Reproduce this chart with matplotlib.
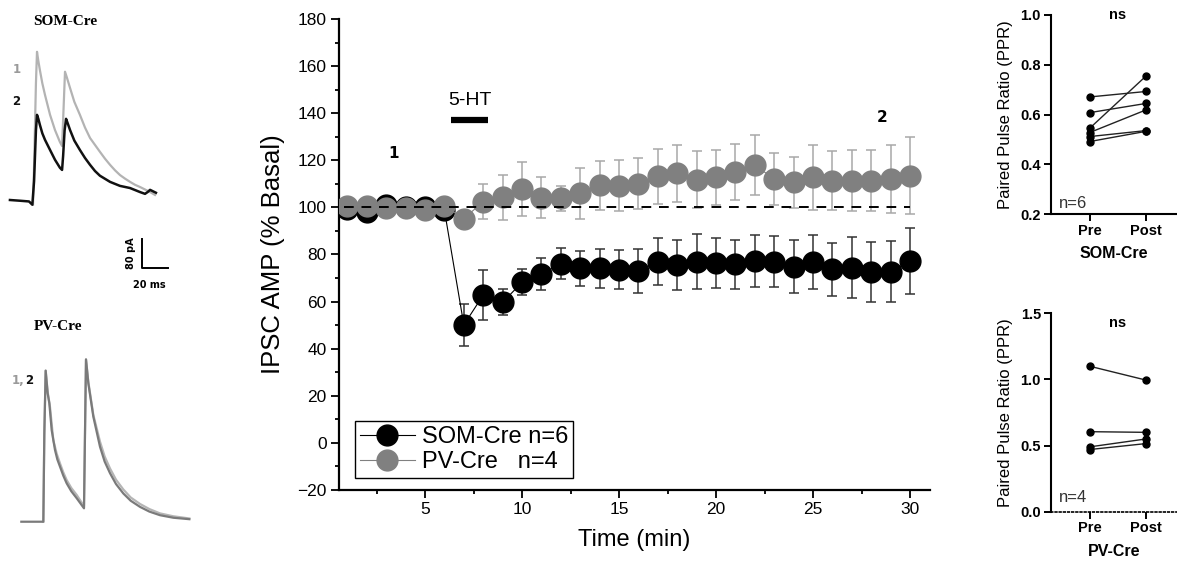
import numpy as np
import matplotlib
matplotlib.use("Agg")
import matplotlib.pyplot as plt
from matplotlib.lines import Line2D

plt.rcParams["font.family"] = ["Liberation Sans", "DejaVu Sans"]

# ---- time course (main panel) ----
time_min = np.arange(1, 31)
som_mean = [99.4, 98.0, 101.1, 100.1, 100.3, 98.7, 50.1, 62.8, 59.7, 68.2,
            71.8, 76.0, 74.1, 74.1, 73.5, 73.0, 77.0, 75.6, 77.0, 76.4,
            75.8, 77.3, 76.9, 74.8, 76.9, 73.7, 74.4, 72.7, 72.7, 77.2]
som_sem = [1.5, 1.5, 1.5, 1.2, 1.5, 2.0, 9.0, 10.5, 5.5, 5.6,
           6.9, 6.6, 7.4, 8.2, 8.2, 9.3, 10.1, 10.5, 11.5, 10.5,
           10.5, 11.0, 10.9, 11.2, 11.4, 11.3, 13.0, 12.7, 12.9, 14.1]
pv_mean = [100.8, 100.4, 99.9, 99.7, 98.7, 100.5, 95.2, 102.5, 104.3, 107.8,
           104.1, 103.9, 106.0, 109.5, 109.2, 110.0, 113.2, 114.5, 111.8, 112.8,
           115.1, 118.0, 112.0, 110.7, 112.8, 111.4, 111.4, 111.4, 112.0, 113.5]
pv_sem = [1.5, 1.5, 1.2, 1.0, 1.5, 1.5, 0.5, 7.6, 9.6, 11.5,
          8.8, 5.3, 10.9, 10.4, 10.9, 10.8, 11.7, 12.2, 12.2, 11.7,
          12.0, 12.9, 11.0, 10.8, 13.9, 12.5, 13.1, 12.9, 14.4, 16.2]
drug_on, drug_off = 6.33, 8.27   # 5-HT application (min)

# ---- paired pulse ratio ----
ppr_labels = ["Pre", "Post"]
som_ppr_pre = [0.671, 0.608, 0.545, 0.528, 0.512, 0.492]
som_ppr_post = [0.693, 0.645, 0.755, 0.619, 0.536, 0.533]
pv_ppr_pre = [1.10, 0.605, 0.49, 0.47]
pv_ppr_post = [0.995, 0.600, 0.55, 0.515]

# ---- example traces (ms, pA) ----
som_t_1 = [0.0, 0.8, 2.2, 3.0, 4.0, 5.2, 7.0, 9.0, 12.8, 16.5, 20.2, 21.8, 22.6,
           24.0, 25.5, 27.8, 31.0, 35.2, 39.0, 42.8, 46.5, 50.2, 54.0, 57.8,
           61.5, 65.2, 69.0, 72.8, 76.5, 80.2, 84.0, 87.8, 91.5]
som_i_1 = [-5, 100, 330, 417, 392, 366, 330, 298, 243, 201, 168, 157, 230,
           362, 345, 317, 279, 243, 208, 179, 160, 141, 122, 105,
           90, 77, 67, 58, 50, 44, 37, 30, 22]
som_t_2 = [-17.3, -9.8, -3.0, -0.5, 0.8, 2.2, 3.0, 4.0, 5.2, 7.0, 9.0, 12.8,
           16.5, 20.2, 21.8, 22.6, 23.7, 24.8, 26.0, 27.8, 31.0, 35.2, 39.0,
           42.8, 46.5, 50.2, 57.8, 65.2, 72.8, 80.2, 84.0, 86.0, 87.8, 90.0, 92.2]
som_i_2 = [8, 6, 4, -5, 60, 200, 243, 232, 215, 192, 174, 146,
           119, 97, 91, 130, 200, 232, 220, 201, 172, 146, 124,
           105, 88, 75, 58, 47, 41, 30, 25, 30, 36, 32, 28]
pv_t_1 = [-0.5, 0.25, 1.25, 2.75, 4.5, 7.0, 9.5, 12, 14.5, 17, 20.5, 24.5, 30,
          30.75, 31.5, 33.25, 37, 42, 45.5, 49.5, 54, 59.5, 65, 72, 79, 87, 97, 109]
pv_i_1 = [0, 244, 417, 359, 317, 225, 188, 161, 136, 115, 93, 74, 43,
          244, 448, 386, 295, 221, 180, 147, 116, 89, 67, 49, 35, 23, 15, 9]
pv_t_2 = [-17, -0.5, 0.25, 1.25, 2.75, 4.0, 5.75, 8.25, 10.0, 12, 14.5, 17,
          20.5, 24.5, 30, 30.75, 31.5, 33.25, 37, 42, 45.5, 49.5, 54, 59.5,
          65, 72, 79, 87, 97, 109]
pv_i_2 = [0, 0, 244, 417, 354, 327, 253, 198, 172, 152, 127, 106,
          84, 65, 37, 244, 448, 382, 290, 207, 166, 134, 104, 78,
          58, 41, 28, 18, 11, 7]
scale_ms, scale_pA = 20, 80

BLACK = "#000000"
GRAY = "#808080"
W, H = 1177, 569

fig = plt.figure(figsize=(W / 100, H / 100), dpi=100)


def px_axes(x0, y0, x1, y1):
    # axes from pixel box (top-left origin)
    return fig.add_axes([x0 / W, 1 - y1 / H, (x1 - x0) / W, (y1 - y0) / H])


# ================= traces =================
ax_s = px_axes(0, 0, 230, 300)
ax_s.plot(som_t_1, som_i_1, color="#b3b3b3", lw=1.6)
ax_s.plot(som_t_2, som_i_2, color="#111111", lw=1.8)
ax_s.set_xlim(-24.75, 147.75)
ax_s.set_ylim(-268, 560)
ax_s.axis("off")
ax_s.text(24, 500, "SOM-Cre", family="Liberation Serif", weight="bold",
          fontsize=11, ha="center", va="center")
ax_s.text(-12.5, 367, "1", color="#9a9a9a", weight="bold", family="DejaVu Sans",
          fontsize=8.5, ha="center", va="center")
ax_s.text(-12.5, 279, "2", color="#111111", weight="bold", family="DejaVu Sans",
          fontsize=8.5, ha="center", va="center")
sx, sy = 81.5, -180
ax_s.plot([sx, sx, sx + scale_ms], [sy + scale_pA, sy, sy], color="k", lw=1.4)
ax_s.text(sx - 8, sy + scale_pA / 2, f"{scale_pA} pA", rotation=90, weight="bold",
          family="DejaVu Sans", fontsize=7, ha="center", va="center")
ax_s.text(sx + 6, sy - 46, f"{scale_ms} ms", weight="bold", family="DejaVu Sans",
          fontsize=7, ha="center", va="center")

ax_p = px_axes(0, 300, 230, 569)
ax_p.plot(pv_t_1, pv_i_1, color="#b5b5b5", lw=1.6)
ax_p.plot(pv_t_2, pv_i_2, color="#7a7a7a", lw=1.6)
ax_p.set_xlim(-33, 139.5)
ax_p.set_ylim(-130.5, 612)
ax_p.axis("off")
ax_p.text(10.5, 540, "PV-Cre", family="Liberation Serif", weight="bold",
          fontsize=11, ha="center", va="center")
ax_p.text(-24.2, 391, "1,", color="#9a9a9a", weight="bold", family="DejaVu Sans",
          fontsize=8.5, ha="left", va="center")
ax_p.text(-14.2, 391, "2", color="#111111", weight="bold", family="DejaVu Sans",
          fontsize=8.5, ha="left", va="center")

# ================= time course =================
ax = px_axes(339.3, 19, 930, 490)
ax.errorbar(time_min, som_mean, yerr=som_sem, fmt="o-", color=BLACK, lw=0.8,
            ms=15, mec=BLACK, ecolor="#333333", elinewidth=1.1, capsize=3.5,
            capthick=1.1, zorder=3)
ax.errorbar(time_min, pv_mean, yerr=pv_sem, fmt="o-", color=GRAY, lw=0.8,
            ms=15, mec=GRAY, ecolor="#a8a8a8", elinewidth=1.1, capsize=3.5,
            capthick=1.1, zorder=4)
ax.hlines(100, 0.8, 30, colors="k", linestyles=(0, (5, 4)), lw=1.4, zorder=5)
ax.plot([drug_on, drug_off], [137, 137], color="k", lw=4.5, solid_capstyle="butt")
ax.text((drug_on + drug_off) / 2, 145.5, "5-HT", fontsize=14, ha="center", va="center")
ax.text(3.37, 123, "1", family="DejaVu Sans", weight="bold", fontsize=11,
        ha="center", va="center")
ax.text(28.57, 138, "2", family="DejaVu Sans", weight="bold", fontsize=11,
        ha="center", va="center")

ax.set_xlim(0.58, 31.03)
ax.set_ylim(-20, 180)
ax.set_xticks([5, 10, 15, 20, 25, 30])
ax.set_xticks(np.arange(2.5, 31, 5), minor=True)
ax.set_yticks(np.arange(-20, 181, 20))
ax.set_yticks(np.arange(-10, 180, 20), minor=True)
ax.tick_params(which="major", length=5.5, width=1.3, labelsize=12.5, direction="out")
ax.tick_params(which="minor", length=3, width=1.3, direction="out")
for side in ("top", "right"):
    ax.spines[side].set_visible(False)
for side in ("left", "bottom"):
    ax.spines[side].set_linewidth(1.6)
ax.set_xlabel("Time (min)", fontsize=17, labelpad=8)
ax.set_ylabel("IPSC AMP (% Basal)", fontsize=18.5, labelpad=9)

handles = [
    Line2D([], [], color=BLACK, lw=0.8, marker="o", ms=15, mec=BLACK),
    Line2D([], [], color=GRAY, lw=0.8, marker="o", ms=15, mec=GRAY),
]
leg = ax.legend(handles, ["SOM-Cre n=6", "PV-Cre   n=4"], loc="lower left",
                bbox_to_anchor=(0.0266, 0.0245), borderaxespad=0, fontsize=17,
                frameon=True, fancybox=False, edgecolor="k", framealpha=1,
                handlelength=2.3, handletextpad=0.3, labelspacing=0.12,
                borderpad=0.22)
leg.get_frame().set_linewidth(1.0)


# ================= PPR panels =================
def ppr_panel(box, pre, post, ylim, yticks, fmt, xlabel, n_text, ns_y, n_y,
              dotted_base=False):
    a = px_axes(*box)
    for p0, p1 in zip(pre, post):
        a.plot([0, 1], [p0, p1], color="#222222", lw=1.0, marker="o", ms=5,
               mfc="k", mec="k", clip_on=False, zorder=3)
    a.set_xlim(-0.69, 1.55)
    a.set_ylim(*ylim)
    a.set_xticks([0, 1])
    a.set_xticklabels(ppr_labels, fontsize=10.5, weight="bold")
    a.set_yticks(yticks)
    a.set_yticklabels([fmt.format(v) for v in yticks], fontsize=10.5, weight="bold")
    a.tick_params(length=5, width=1.4, pad=2)
    for side in ("top", "right"):
        a.spines[side].set_visible(False)
    a.spines["left"].set_linewidth(1.5)
    a.spines["bottom"].set_linewidth(1.5)
    if dotted_base:
        a.spines["bottom"].set_linestyle((0, (1, 1.5)))
        a.spines["bottom"].set_linewidth(1.2)
    a.set_ylabel("Paired Pulse Ratio (PPR)", fontsize=12, labelpad=5)
    a.set_xlabel(xlabel, fontsize=11.5, weight="bold", labelpad=6)
    a.text(0.5, ns_y, "ns", fontsize=10.5, weight="bold", ha="center",
           va="center", clip_on=False)
    a.text(-0.55, n_y, n_text, fontsize=12, color="#333333", ha="left", va="center")
    return a


ppr_panel((1050.7, 15, 1177, 214.3), som_ppr_pre, som_ppr_post, (0.2, 1.0),
          [0.2, 0.4, 0.6, 0.8, 1.0], "{:.1f}", "SOM-Cre", "n=6", 1.0, 0.245)
ppr_panel((1050.7, 313.3, 1177, 511.7), pv_ppr_pre, pv_ppr_post, (0.0, 1.5),
          [0.0, 0.5, 1.0, 1.5], "{:.1f}", "PV-Cre", "n=4", 1.43, 0.11,
          dotted_base=True)

fig.savefig("out.png", dpi=100)
